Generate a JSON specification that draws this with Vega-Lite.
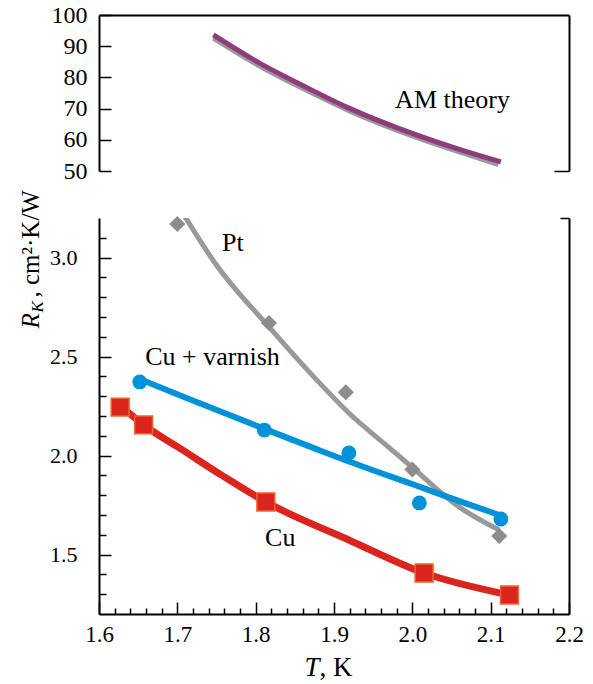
{
  "$schema": "https://vega.github.io/schema/vega-lite/v6.json",
  "padding": {"left": 18, "top": 3, "right": 5, "bottom": 5},
  "background": "white",
  "config": {
    "view": {"stroke": null},
    "font": "Liberation Serif",
    "axis": {
      "grid": false,
      "labelFont": "Liberation Serif",
      "labelFontSize": 22,
      "labelColor": "black",
      "domainColor": "black",
      "domainWidth": 2,
      "tickColor": "black",
      "tickWidth": 1.5,
      "titleFont": "Liberation Serif",
      "titleFontSize": 25,
      "titleFontWeight": "normal",
      "titleColor": "black",
      "labelFlush": false,
      "labelOverlap": false
    }
  },
  "datasets": {
    "am_purple": [
      {"T": 1.746, "R": 93.6}, {"T": 1.809, "R": 84.0}, {"T": 1.86, "R": 77.4}, {"T": 1.917, "R": 70.4},
      {"T": 2.007, "R": 61.4}, {"T": 2.06, "R": 56.9}, {"T": 2.113, "R": 52.9}
    ],
    "am_gray": [
      {"T": 1.746, "R": 92.6}, {"T": 1.809, "R": 83.1}, {"T": 1.86, "R": 76.5}, {"T": 1.917, "R": 69.6},
      {"T": 2.007, "R": 60.6}, {"T": 2.06, "R": 56.1}, {"T": 2.11, "R": 52.1}
    ],
    "top_labels": [{"T": 1.978, "R": 72.8, "text": "AM theory"}],
    "pt_pts": [
      {"T": 1.70, "R": 3.17}, {"T": 1.817, "R": 2.67}, {"T": 1.915, "R": 2.32}, {"T": 2.0, "R": 1.93}, {"T": 2.111, "R": 1.594}
    ],
    "pt_line": [
      {"T": 1.710, "R": 3.205}, {"T": 1.748, "R": 2.973}, {"T": 1.817, "R": 2.65}, {"T": 1.876, "R": 2.39},
      {"T": 1.919, "R": 2.215}, {"T": 1.974, "R": 2.028}, {"T": 2.0, "R": 1.94}, {"T": 2.06, "R": 1.74}, {"T": 2.111, "R": 1.624}
    ],
    "cv_pts": [
      {"T": 1.652, "R": 2.372}, {"T": 1.811, "R": 2.129}, {"T": 1.919, "R": 2.013}, {"T": 2.009, "R": 1.761}, {"T": 2.113, "R": 1.68}
    ],
    "cv_line": [
      {"T": 1.655, "R": 2.382}, {"T": 1.706, "R": 2.30}, {"T": 1.811, "R": 2.135}, {"T": 1.876, "R": 2.035},
      {"T": 1.919, "R": 1.97}, {"T": 2.004, "R": 1.85}, {"T": 2.06, "R": 1.77}, {"T": 2.111, "R": 1.70}
    ],
    "cu_pts": [
      {"T": 1.627, "R": 2.245}, {"T": 1.657, "R": 2.155}, {"T": 1.813, "R": 1.766}, {"T": 2.015, "R": 1.407}, {"T": 2.124, "R": 1.296}
    ],
    "cu_line": [
      {"T": 1.628, "R": 2.25}, {"T": 1.657, "R": 2.155}, {"T": 1.706, "R": 2.03}, {"T": 1.757, "R": 1.90},
      {"T": 1.813, "R": 1.766}, {"T": 1.919, "R": 1.574}, {"T": 2.015, "R": 1.407}, {"T": 2.124, "R": 1.296}
    ],
    "bottom_labels": [
      {"T": 1.757, "R": 3.074, "text": "Pt"},
      {"T": 1.659, "R": 2.498, "text": "Cu + varnish"},
      {"T": 1.812, "R": 1.584, "text": "Cu"}
    ]
  },
  "vconcat": [
    {
      "width": 470,
      "height": 156,
      "resolve": {"axis": {"x": "independent", "y": "independent"}},
      "layer": [
        {
          "data": {"name": "am_gray"},
          "mark": {"type": "line", "color": "#9a9a9a", "strokeWidth": 5, "interpolate": "monotone"},
          "encoding": {
            "x": {"field": "T", "type": "quantitative", "scale": {"domain": [1.6, 2.2], "nice": false, "zero": false},
              "axis": {"orient": "top", "domain": true, "ticks": false, "labels": false, "title": null}},
            "y": {"field": "R", "type": "quantitative", "scale": {"domain": [50, 100], "nice": false, "zero": false},
              "axis": {"orient": "left", "values": [50, 60, 70, 80, 90, 100], "format": "d", "tickSize": -12, "labelPadding": 24, "labelFontSize": 24, "title": null}}
          }
        },
        {
          "data": {"name": "am_purple"},
          "mark": {"type": "line", "color": "#8e3c7e", "strokeWidth": 5, "interpolate": "monotone"},
          "encoding": {
            "x": {"field": "T", "type": "quantitative", "axis": null},
            "y": {"field": "R", "type": "quantitative",
              "axis": {"orient": "right", "values": [50], "tickSize": -15, "labels": false, "title": null}}
          }
        },
        {
          "data": {"name": "top_labels"},
          "mark": {"type": "text", "align": "left", "baseline": "middle", "fontSize": 26, "font": "Liberation Serif", "color": "black"},
          "encoding": {
            "x": {"field": "T", "type": "quantitative", "axis": null},
            "y": {"field": "R", "type": "quantitative", "axis": null},
            "text": {"field": "text"}
          }
        }
      ]
    },
    {
      "width": 470,
      "height": 396,
      "resolve": {"axis": {"x": "independent", "y": "independent"}},
      "layer": [
        {
          "data": {"name": "pt_line"},
          "mark": {"type": "line", "color": "#999999", "strokeWidth": 5, "interpolate": "monotone", "clip": true},
          "encoding": {
            "x": {"field": "T", "type": "quantitative", "scale": {"domain": [1.6, 2.2], "nice": false, "zero": false},
              "axis": {"orient": "bottom", "values": [1.6, 1.7, 1.8, 1.9, 2.0, 2.1, 2.2], "format": ".1f", "tickSize": -12, "labelPadding": 21, "labelFontSize": 23,
                "title": "T", "titleFontStyle": "italic", "titleFontSize": 27, "titleX": 205, "titleY": 61, "titleAlign": "left", "titleBaseline": "alphabetic"}},
            "y": {"field": "R", "type": "quantitative", "scale": {"domain": [1.2, 3.2], "nice": false, "zero": false},
              "axis": {"orient": "left", "values": [1.5, 2.0, 2.5, 3.0], "format": ".1f", "tickSize": -12, "labelPadding": 34,
                "title": "R", "titleFontStyle": "italic", "titleAngle": -90, "titleX": -61, "titleY": 110, "titleAlign": "left", "titleBaseline": "alphabetic"}}
          }
        },
        {
          "data": {"name": "pt_pts"},
          "mark": {"type": "point", "shape": "diamond", "filled": true, "color": "#8c8c8c", "size": 260, "opacity": 1},
          "encoding": {
            "x": {"field": "T", "type": "quantitative",
              "axis": {"orient": "bottom", "values": [1.62, 1.64, 1.66, 1.68, 1.72, 1.74, 1.76, 1.78, 1.82, 1.84, 1.86, 1.88, 1.92, 1.94, 1.96, 1.98, 2.02, 2.04, 2.06, 2.08, 2.12, 2.14, 2.16, 2.18],
                "labels": false, "domain": false, "tickSize": -6,
                "title": ", K", "titleFontSize": 27, "titleX": 220, "titleY": 61, "titleAlign": "left", "titleBaseline": "alphabetic"}},
            "y": {"field": "R", "type": "quantitative",
              "axis": {"orient": "left", "values": [1.3, 1.4, 1.6, 1.7, 1.8, 1.9, 2.1, 2.2, 2.3, 2.4, 2.6, 2.7, 2.8, 2.9, 3.1],
                "labels": false, "domain": false, "tickSize": -7,
                "title": "K", "titleFontStyle": "italic", "titleFontSize": 17, "titleAngle": -90, "titleX": -57, "titleY": 94, "titleAlign": "left", "titleBaseline": "alphabetic"}}
          }
        },
        {
          "data": {"name": "cv_line"},
          "mark": {"type": "line", "color": "#0092d8", "strokeWidth": 6, "interpolate": "monotone"},
          "encoding": {
            "x": {"field": "T", "type": "quantitative", "axis": null},
            "y": {"field": "R", "type": "quantitative",
              "axis": {"orient": "right", "values": [3.2], "tickSize": -9, "labels": false,
                "title": ", cm²·K/W", "titleAngle": -90, "titleX": -531, "titleY": 79, "titleAlign": "left", "titleBaseline": "alphabetic"}}
          }
        },
        {
          "data": {"name": "cv_pts"},
          "mark": {"type": "point", "shape": "circle", "filled": true, "color": "#0092d8", "size": 220, "opacity": 1},
          "encoding": {
            "x": {"field": "T", "type": "quantitative", "axis": null},
            "y": {"field": "R", "type": "quantitative", "axis": null}
          }
        },
        {
          "data": {"name": "cu_line"},
          "mark": {"type": "line", "color": "#dc241f", "strokeWidth": 7, "interpolate": "monotone"},
          "encoding": {
            "x": {"field": "T", "type": "quantitative", "axis": null},
            "y": {"field": "R", "type": "quantitative", "axis": null}
          }
        },
        {
          "data": {"name": "cu_pts"},
          "mark": {"type": "point", "shape": "square", "filled": true, "fill": "#dc241f", "stroke": "#f0642a", "strokeWidth": 1.5, "size": 320, "opacity": 1},
          "encoding": {
            "x": {"field": "T", "type": "quantitative", "axis": null},
            "y": {"field": "R", "type": "quantitative", "axis": null}
          }
        },
        {
          "data": {"name": "bottom_labels"},
          "mark": {"type": "text", "align": "left", "baseline": "middle", "fontSize": 26, "font": "Liberation Serif", "color": "black"},
          "encoding": {
            "x": {"field": "T", "type": "quantitative", "axis": null},
            "y": {"field": "R", "type": "quantitative", "axis": null},
            "text": {"field": "text"}
          }
        }
      ]
    }
  ],
  "spacing": 47,
  "bounds": "flush"
}
